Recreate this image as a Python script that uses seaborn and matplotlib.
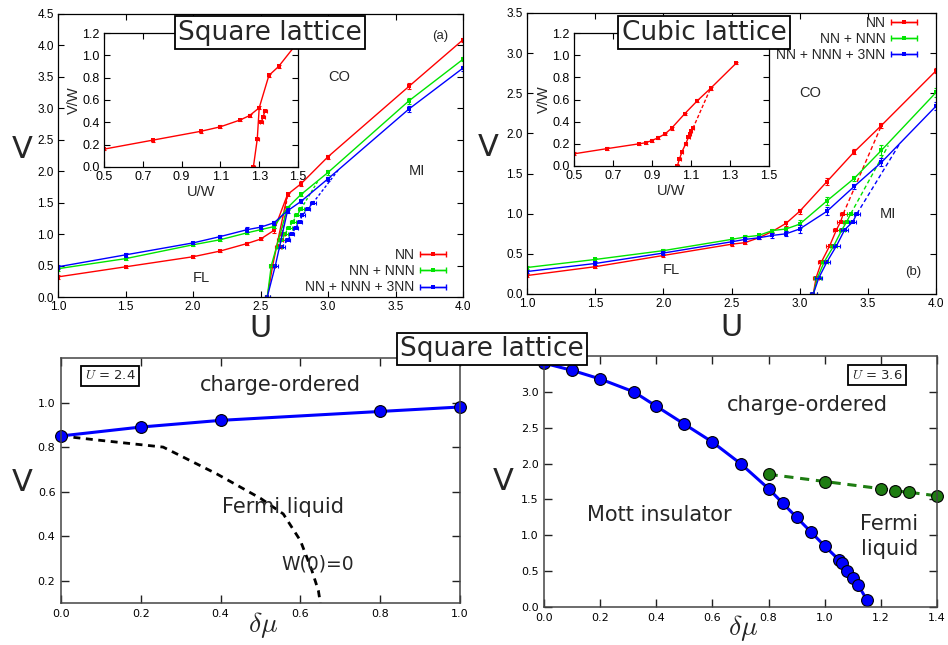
import numpy as np
import pandas as pd
import matplotlib
matplotlib.use("Agg")
import matplotlib.pyplot as plt
from matplotlib.ticker import FormatStrFormatter
from matplotlib.container import ErrorbarContainer
from matplotlib.legend_handler import HandlerErrorbar
from matplotlib.lines import Line2D
from matplotlib.collections import LineCollection
import seaborn as sns

# ---------------- square lattice, V vs U ----------------
sq_U = [1.0, 1.5, 2.0, 2.2, 2.4, 2.5, 2.6, 2.7, 2.8, 3.0, 3.6, 4.0]
sq_V_nn = [0.32, 0.48, 0.64, 0.73, 0.85, 0.92, 1.06, 1.63, 1.80, 2.23, 3.35, 4.09]
sq_V_nnn = [0.45, 0.61, 0.83, 0.91, 1.02, 1.07, 1.12, 1.42, 1.63, 1.98, 3.12, 3.78]
sq_V_3nn = [0.48, 0.67, 0.86, 0.96, 1.07, 1.11, 1.18, 1.37, 1.52, 1.88, 2.99, 3.64]
sq_err_nn = [0.03, 0.02, 0.02, 0.02, 0.02, 0.02, 0.04, 0.03, 0.04, 0.03, 0.05, 0.03]
sq_err_nnn = [0.03, 0.02, 0.02, 0.02, 0.02, 0.02, 0.03, 0.03, 0.03, 0.04, 0.05, 0.03]
sq_err_3nn = [0.03, 0.03, 0.02, 0.02, 0.04, 0.03, 0.03, 0.04, 0.03, 0.03, 0.05, 0.04]

# Mott-insulator boundary (points with horizontal error bars)
sq_mi_V_nn = [0.0, 0.5, 0.8, 0.9, 1.0]
sq_mi_U_nn = [2.55, 2.59, 2.63, 2.645, 2.66]
sq_mi_V_nnn = [0.0, 0.5, 0.8, 0.9, 1.0, 1.1, 1.2, 1.3, 1.4]
sq_mi_U_nnn = [2.55, 2.58, 2.64, 2.66, 2.68, 2.71, 2.74, 2.77, 2.80]
sq_mi_V_3nn = [0.0, 0.5, 0.8, 0.9, 1.0, 1.1, 1.2, 1.3, 1.4, 1.5]
sq_mi_U_3nn = [2.55, 2.61, 2.66, 2.70, 2.73, 2.76, 2.79, 2.81, 2.85, 2.89]
sq_mi_xerr = 0.02
# where the dashed MI boundary meets the CO line
sq_end_U = [2.70, 2.93, 3.08]
sq_end_V = [1.63, 1.86, 2.03]

# inset: V/W vs U/W
sqi_U = [0.5, 0.75, 1.0, 1.1, 1.2, 1.25, 1.3, 1.35, 1.4, 1.5]
sqi_V = [0.16, 0.24, 0.32, 0.36, 0.42, 0.46, 0.53, 0.82, 0.90, 1.12]
sqi_mi_U = [1.27, 1.29, 1.31, 1.32, 1.33]
sqi_mi_V = [0.0, 0.25, 0.40, 0.45, 0.50]

# ---------------- cubic lattice, V vs U ----------------
cu_U = [1.0, 1.5, 2.0, 2.5, 2.6, 2.7, 2.8, 2.9, 3.0, 3.2, 3.4, 3.6, 4.0]
cu_V_nn = [0.23, 0.34, 0.48, 0.62, 0.64, 0.70, 0.78, 0.88, 1.03, 1.40, 1.77, 2.10, 2.78]
cu_V_nnn = [0.33, 0.43, 0.54, 0.68, 0.71, 0.73, 0.79, 0.81, 0.87, 1.16, 1.44, 1.79, 2.51]
cu_V_3nn = [0.28, 0.38, 0.51, 0.65, 0.68, 0.70, 0.73, 0.75, 0.81, 1.03, 1.34, 1.64, 2.34]
cu_err_nn = [0.02, 0.02, 0.02, 0.02, 0.02, 0.02, 0.02, 0.03, 0.03, 0.04, 0.03, 0.03, 0.03]
cu_err_nnn = [0.02, 0.02, 0.02, 0.02, 0.02, 0.02, 0.02, 0.03, 0.05, 0.05, 0.03, 0.06, 0.06]
cu_err_3nn = [0.02, 0.02, 0.02, 0.02, 0.02, 0.02, 0.03, 0.03, 0.05, 0.05, 0.03, 0.05, 0.05]

cu_mi_V = [0.0, 0.2, 0.4, 0.6, 0.8, 0.9, 1.0]
cu_mi_U_nn = [3.10, 3.12, 3.16, 3.22, 3.27, 3.30, 3.32]
cu_mi_U_nnn = [3.10, 3.13, 3.18, 3.25, 3.31, 3.345, 3.375]
cu_mi_U_3nn = [3.10, 3.14, 3.20, 3.27, 3.33, 3.39, 3.42]
cu_mi_xerr = 0.025
cu_end_U = [3.60, 3.65, 3.74]
cu_end_V = [2.10, 1.85, 1.89]

cui_U = [0.5, 0.667, 0.833, 0.867, 0.90, 0.933, 0.967, 1.0, 1.067, 1.133, 1.2, 1.333]
cui_V = [0.11, 0.156, 0.20, 0.21, 0.23, 0.256, 0.29, 0.34, 0.47, 0.59, 0.70, 0.93]
cui_mi_U = [1.03, 1.04, 1.054, 1.073, 1.087, 1.095, 1.10, 1.11]
cui_mi_V = [0.0, 0.06, 0.13, 0.20, 0.26, 0.29, 0.32, 0.34]

# ---------------- square lattice, V vs delta mu ----------------
bl_dmu = [0.0, 0.2, 0.4, 0.8, 1.0]
bl_V = [0.85, 0.89, 0.92, 0.96, 0.98]
w0_dmu = [0.0, 0.1, 0.256, 0.39, 0.50, 0.557, 0.60, 0.628, 0.645, 0.65]
w0_V = [0.85, 0.83, 0.80, 0.68, 0.57, 0.50, 0.38, 0.25, 0.156, 0.10]

br_dmu = [0.0, 0.1, 0.2, 0.32, 0.4, 0.5, 0.6, 0.7, 0.8, 0.85, 0.9, 0.95, 1.0,
          1.05, 1.06, 1.08, 1.1, 1.12, 1.15]
br_V = [3.40, 3.30, 3.18, 3.00, 2.80, 2.55, 2.30, 2.00, 1.65, 1.45, 1.25, 1.05, 0.85,
        0.66, 0.62, 0.50, 0.40, 0.30, 0.10]
gr_dmu = [0.8, 1.0, 1.2, 1.25, 1.3, 1.4]
gr_V = [1.85, 1.75, 1.65, 1.62, 1.60, 1.55]

SERIES = ["NN", "NN + NNN", "NN + NNN + 3NN"]

# ---------------- style ----------------
sns.set_theme(style="ticks")
plt.rcParams["font.family"] = ["Liberation Sans", "DejaVu Sans"]
plt.rcParams["mathtext.fontset"] = "cm"

RED, GREEN, BLUE = "#ff0000", "#00e400", "#0000ff"
COLORS = [RED, GREEN, BLUE]

fig = plt.figure(figsize=(9.48, 6.45), dpi=100)
W, H = 948.0, 645.0


def rect(l, t, r, b):
    return [l / W, 1 - b / H, (r - l) / W, (b - t) / H]


def sline(ax, x, y, color, ls="-", lw=1.0, marker="s", ms=2.6, **kw):
    df = pd.DataFrame({"x": x, "y": y})
    kw.setdefault("markeredgewidth", 0)
    sns.lineplot(data=df, x="x", y="y", ax=ax, color=color, lw=lw, linestyle=ls,
                 marker=marker, markersize=ms, estimator=None, sort=False, **kw)


def vbars(ax, x, y, err, color):
    ax.errorbar(x, y, yerr=err, fmt="none", ecolor=color, elinewidth=0.8,
                capsize=1.6, capthick=0.8)


def hbars(ax, x, y, err, color):
    ax.errorbar(x, y, xerr=err, fmt="none", ecolor=color, elinewidth=0.8,
                capsize=1.6, capthick=0.8)
    sns.scatterplot(x=x, y=y, ax=ax, color=color, marker="s", s=7, linewidth=0)


def gp_style(ax, xlim, ylim, xticks, yticks, fs=8.5):
    ax.set_xlim(*xlim)
    ax.set_ylim(*ylim)
    ax.set_xticks(xticks)
    ax.set_yticks(yticks)
    ax.xaxis.set_major_formatter(FormatStrFormatter("%.1f"))
    ax.yaxis.set_major_formatter(FormatStrFormatter("%.1f"))
    ax.tick_params(direction="in", top=True, right=True, length=4, width=0.8,
                   labelsize=fs, pad=3, colors="black")
    for sp in ax.spines.values():
        sp.set_visible(True)
        sp.set_linewidth(0.9)
        sp.set_color("black")
    ax.set_xlabel("")
    ax.set_ylabel("")
    ax.set_facecolor("white")


def legend_handles():
    hs = []
    for c in COLORS:
        line = Line2D([], [], color=c, marker="s", ms=2.6, lw=1.0, mew=0)
        cap = Line2D([], [], color=c, marker="|", ms=5, mew=1.0, ls="none")
        bar = LineCollection([], colors=c, linewidths=1.0)
        hs.append(ErrorbarContainer((line, (cap, cap), (bar,)),
                                    has_xerr=True, has_yerr=False))
    return hs


def big_labels(ax, ylab_xy, xlab_xy, xlabel, fs=22):
    ax.set_ylabel("V", rotation=0, fontsize=fs, family="DejaVu Sans")
    ax.yaxis.set_label_coords(*ylab_xy)
    ax.yaxis.label.set_va("center")
    ax.set_xlabel(xlabel, fontsize=fs, family="DejaVu Sans")
    ax.xaxis.set_label_coords(*xlab_xy)
    ax.xaxis.label.set_va("center")


LEG = dict(frameon=False, markerfirst=False, fontsize=10, handlelength=1.9,
           labelspacing=0.15, handletextpad=0.4,
           handler_map={ErrorbarContainer: HandlerErrorbar(xerr_size=0.95)})

# ================= top-left: square lattice =================
ax1 = fig.add_axes(rect(58, 14, 463, 297))
sq_V = [sq_V_nn, sq_V_nnn, sq_V_3nn]
sq_err = [sq_err_nn, sq_err_nnn, sq_err_3nn]
sq_mi_U = [sq_mi_U_nn, sq_mi_U_nnn, sq_mi_U_3nn]
sq_mi_V = [sq_mi_V_nn, sq_mi_V_nnn, sq_mi_V_3nn]
k27 = sq_U.index(2.7)
for i, c in enumerate(COLORS):
    sline(ax1, sq_U, sq_V[i], c)
    vbars(ax1, sq_U, sq_V[i], sq_err[i], c)
    # lower MI branch joining the CO line at U = 2.7
    sline(ax1, sq_mi_U[i][:2] + [sq_U[k27]], sq_mi_V[i][:2] + [sq_V[i][k27]], c,
          marker=None)
    # upper MI branch, dashed, up to the CO line
    sline(ax1, sq_mi_U[i][2:] + [sq_end_U[i]], sq_mi_V[i][2:] + [sq_end_V[i]], c,
          ls=(0, (2, 1.5)), marker=None)
    hbars(ax1, sq_mi_U[i], sq_mi_V[i], sq_mi_xerr, c)
gp_style(ax1, (1.0, 4.0), (0.0, 4.5), np.arange(1.0, 4.01, 0.5), np.arange(0, 4.51, 0.5))
big_labels(ax1, (-0.089, 0.52), (0.5, -0.112), "U")
ax1.text(3.08, 3.5, "CO", fontsize=10.5, ha="center", va="center")
ax1.text(3.66, 2.0, "MI", fontsize=10.5, ha="center", va="center")
ax1.text(2.06, 0.3, "FL", fontsize=10.5, ha="center", va="center")
ax1.text(3.83, 4.15, "(a)", fontsize=9.5, ha="center", va="center")
ax1.legend(handles=legend_handles(), labels=SERIES, loc="lower right",
           bbox_to_anchor=(0.99, -0.035), **LEG)

# inset
ax1i = fig.add_axes(rect(104, 33, 298, 167))
sline(ax1i, sqi_U, sqi_V, RED)
vbars(ax1i, sqi_U, sqi_V, 0.012, RED)
k13 = sqi_U.index(1.3)
sline(ax1i, sqi_mi_U[:2] + [sqi_U[k13]], sqi_mi_V[:2] + [sqi_V[k13]], RED, marker=None)
sline(ax1i, sqi_mi_U[2:], sqi_mi_V[2:], RED, marker=None)
hbars(ax1i, sqi_mi_U, sqi_mi_V, 0.008, RED)
gp_style(ax1i, (0.5, 1.5), (0.0, 1.2), np.arange(0.5, 1.51, 0.2), np.arange(0, 1.21, 0.2),
         fs=9)
ax1i.set_xlabel("U/W", fontsize=10.5, labelpad=1)
ax1i.set_ylabel("V/W", fontsize=10.5, labelpad=1)

# ================= top-right: cubic lattice =================
ax2 = fig.add_axes(rect(527, 13, 936, 294))
cu_V = [cu_V_nn, cu_V_nnn, cu_V_3nn]
cu_err = [cu_err_nn, cu_err_nnn, cu_err_3nn]
cu_mi_U = [cu_mi_U_nn, cu_mi_U_nnn, cu_mi_U_3nn]
for i, c in enumerate(COLORS):
    sline(ax2, cu_U, cu_V[i], c)
    vbars(ax2, cu_U, cu_V[i], cu_err[i], c)
    sline(ax2, cu_mi_U[i], cu_mi_V, c, marker=None)
    sline(ax2, [cu_mi_U[i][-1], cu_end_U[i]], [cu_mi_V[-1], cu_end_V[i]], c,
          ls=(0, (3, 2)), marker=None)
    hbars(ax2, cu_mi_U[i], cu_mi_V, cu_mi_xerr, c)
gp_style(ax2, (1.0, 4.0), (0.0, 3.5), np.arange(1.0, 4.01, 0.5), np.arange(0, 3.51, 0.5))
big_labels(ax2, (-0.095, 0.52), (0.5, -0.12), "U")
ax2.text(3.08, 2.5, "CO", fontsize=10.5, ha="center", va="center")
ax2.text(3.65, 1.0, "MI", fontsize=10.5, ha="center", va="center")
ax2.text(2.06, 0.3, "FL", fontsize=10.5, ha="center", va="center")
ax2.text(3.83, 0.27, "(b)", fontsize=9.5, ha="center", va="center")
ax2.legend(handles=legend_handles(), labels=SERIES, loc="upper right",
           bbox_to_anchor=(0.985, 1.035), **LEG)

ax2i = fig.add_axes(rect(574, 33, 769, 166))
sline(ax2i, cui_U, cui_V, RED)
vbars(ax2i, cui_U, cui_V, 0.012, RED)
sline(ax2i, cui_mi_U, cui_mi_V, RED, marker=None)
k12 = cui_U.index(1.2)
sline(ax2i, [cui_mi_U[-1], cui_U[k12]], [cui_mi_V[-1], cui_V[k12]], RED,
      ls=(0, (2.5, 1.5)), marker=None)
hbars(ax2i, cui_mi_U, cui_mi_V, 0.007, RED)
gp_style(ax2i, (0.5, 1.5), (0.0, 1.2), np.arange(0.5, 1.51, 0.2), np.arange(0, 1.21, 0.2),
         fs=9)
ax2i.set_xlabel("U/W", fontsize=10.5, labelpad=1)
ax2i.set_ylabel("V/W", fontsize=10.5, labelpad=1)


# ================= bottom panels =================
def mpl_style(ax, xlim, ylim, xticks, yticks):
    ax.set_xlim(*xlim)
    ax.set_ylim(*ylim)
    ax.set_xticks(xticks)
    ax.set_yticks(yticks)
    ax.xaxis.set_major_formatter(FormatStrFormatter("%.1f"))
    ax.yaxis.set_major_formatter(FormatStrFormatter("%.1f"))
    ax.tick_params(direction="in", top=True, right=True, length=6, width=1.0,
                   labelsize=8, pad=4, colors="#222222", labelcolor="black")
    for lab in ax.get_xticklabels() + ax.get_yticklabels():
        lab.set_family("DejaVu Sans")
    for sp in ax.spines.values():
        sp.set_visible(True)
        sp.set_linewidth(1.1)
        sp.set_color("#444444")
    ax.set_facecolor("white")


box = dict(boxstyle="square,pad=0.25", fc="white", ec="black", lw=1.3)
txt = dict(fontsize=15, ha="center", va="center", family="DejaVu Sans")

ax3 = fig.add_axes(rect(61, 358, 460, 603))
sline(ax3, w0_dmu, w0_V, "black", ls=(0, (2.5, 2.0)), lw=2.0, marker=None)
sline(ax3, bl_dmu, bl_V, BLUE, lw=2.2, marker="o", ms=8.5,
      markeredgecolor="black", markeredgewidth=0.8, clip_on=False)
mpl_style(ax3, (0.0, 1.0), (0.1, 1.2), np.arange(0, 1.01, 0.2), np.arange(0.2, 1.01, 0.2))
ax3.set_ylabel("V", rotation=0, fontsize=22, family="DejaVu Sans")
ax3.yaxis.set_label_coords(-0.098, 0.49)
ax3.yaxis.label.set_va("center")
ax3.set_xlabel(r"$\delta\mu$", fontsize=20)
ax3.xaxis.set_label_coords(0.506, -0.09)
ax3.xaxis.label.set_va("center")
ax3.text(0.55, 1.08, "charge-ordered", **txt)
ax3.text(0.556, 0.53, "Fermi liquid", **txt)
ax3.text(0.644, 0.276, "W(0)=0", fontsize=13.5, ha="center", va="center",
         family="DejaVu Sans")
ax3.text(0.123, 0.927, "$U$ = 2.4", transform=ax3.transAxes, fontsize=9.5,
         ha="center", va="center", family="DejaVu Sans", bbox=box)

ax4 = fig.add_axes(rect(544, 356, 937, 607))
sline(ax4, gr_dmu, gr_V, "#1e7d12", ls=(0, (3, 2.2)), lw=2.2, marker="o", ms=8.5,
      markeredgecolor="black", markeredgewidth=0.8, clip_on=False)
sline(ax4, br_dmu, br_V, BLUE, lw=2.2, marker="o", ms=8.5,
      markeredgecolor="black", markeredgewidth=0.8, clip_on=False)
mpl_style(ax4, (0.0, 1.4), (0.0, 3.5), np.arange(0, 1.41, 0.2), np.arange(0, 3.01, 0.5))
ax4.set_ylabel("V", rotation=0, fontsize=22, family="DejaVu Sans")
ax4.yaxis.set_label_coords(-0.104, 0.50)
ax4.yaxis.label.set_va("center")
ax4.set_xlabel(r"$\delta\mu$", fontsize=20)
ax4.xaxis.set_label_coords(0.506, -0.085)
ax4.xaxis.label.set_va("center")
ax4.text(0.94, 2.82, "charge-ordered", **txt)
ax4.text(0.41, 1.28, "Mott insulator", **txt)
ax4.text(1.23, 0.98, "Fermi\nliquid", linespacing=1.3, **txt)
ax4.text(0.847, 0.924, "$U$ = 3.6", transform=ax4.transAxes, fontsize=9.5,
         ha="center", va="center", family="DejaVu Sans", bbox=box)

# ================= panel titles =================
tbox = dict(boxstyle="square,pad=0.12", fc="white", ec="black", lw=1.3)
for x, y, s in [(270, 32.5, "Square lattice"), (704, 32.5, "Cubic lattice"),
                (492, 349, "Square lattice")]:
    fig.text(x / W, 1 - y / H, s, fontsize=19, family="DejaVu Sans",
             ha="center", va="center", bbox=tbox, zorder=10)

fig.savefig("out.png", dpi=100)
